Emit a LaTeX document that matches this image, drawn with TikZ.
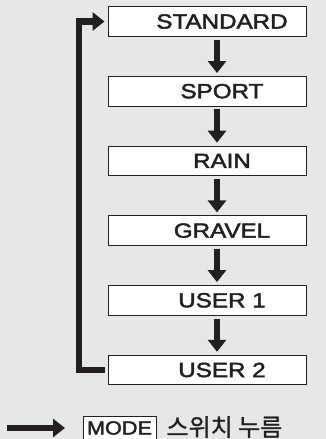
\documentclass[tikz,border=0pt]{standalone}
\usepackage{fontspec}
\setmainfont{Liberation Sans}
\newfontfamily\modefont[FakeBold=2]{Liberation Sans}
\newfontfamily\kofont[FakeBold=1]{Noto Sans CJK KR}
\usetikzlibrary{positioning,arrows.meta}
\definecolor{panelgray}{RGB}{230,231,232}
\definecolor{inkblack}{RGB}{35,31,32}
\newcommand{\widetext}[2][1.18]{\scalebox{#1}[1]{#2}}

\begin{document}
\begin{tikzpicture}[x=1pt,y=1pt,
  modebox/.style={draw=inkblack, line width=0.9pt, fill=white,
    minimum width=198pt, minimum height=29.5pt, inner sep=0pt},
  modetext/.style={font=\modefont\fontsize{20.5}{21}\selectfont, text=inkblack},
  flow/.style={draw=inkblack, line width=6.5pt,
    -{Triangle[width=18pt,length=12pt]}, shorten <=3pt, shorten >=3pt},
  node distance=39.3pt]

\fill[panelgray] (0,0) rectangle (326,-439);
\useasboundingbox (0,0) rectangle (326,-439);

% mode boxes
\node[modebox, label={[modetext, xshift=15pt]center:\widetext{STANDARD}}] (standard) at (207,-21.5) {};
\node[modebox, below=of standard, label={[modetext, xshift=15pt]center:\widetext{SPORT}}] (sport) {};
\node[modebox, below=of sport, label={[modetext, xshift=15pt]center:\widetext{RAIN}}] (rain) {};
\node[modebox, below=of rain, label={[modetext, xshift=15pt]center:\widetext{GRAVEL}}] (gravel) {};
\node[modebox, below=of gravel, label={[modetext, xshift=15pt]center:\widetext{USER 1}}] (user1) {};
\node[modebox, below=of user1, label={[modetext, xshift=15pt]center:\widetext{USER 2}}] (user2) {};

\foreach \a/\b in {standard/sport, sport/rain, rain/gravel, gravel/user1, user1/user2}{
  \draw[flow] ([xshift=10pt]\a.south) -- ([xshift=10pt]\b.north);
}

% back to the start
\draw[flow, line join=miter, shorten <=0pt] ([xshift=-3pt]user2.west) -- ++(-25.5,0) |- (standard.west);

% key
\coordinate (keytail) at (7,-428);
\coordinate (keyhead) at (65,-428);
\draw[flow, shorten <=0pt, shorten >=0pt] (keytail) -- (keyhead);
\node[draw=inkblack, line width=0.9pt, fill=white, minimum width=73pt, minimum height=24pt,
  inner sep=0pt, font=\modefont\fontsize{19}{19}\selectfont, text=inkblack] (modekey) at (119.5,-428) {\widetext[1.14]{MODE}};
\node[font=\kofont\fontsize{24}{25}\selectfont, text=inkblack, anchor=west] (presslabel) at (163,-427) {스위치 누름};

\end{tikzpicture}
\end{document}
